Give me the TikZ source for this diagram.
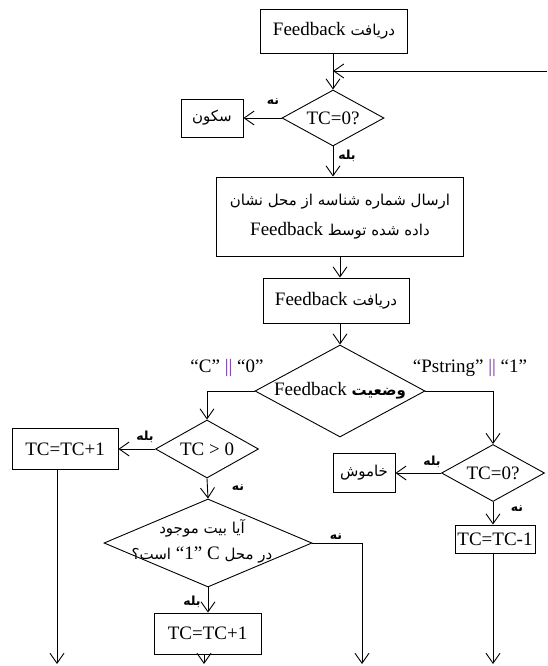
\documentclass[tikz,border=0pt]{standalone}
\usepackage{fontspec}
\setmainfont{Liberation Serif}
\newfontfamily\arabicfont[Script=Arabic]{DejaVu Sans}
\TeXXeTstate=1
\usetikzlibrary{shapes.geometric,arrows.meta}
\definecolor{barcol}{RGB}{112,48,160}
\newcommand\persfont{\arabicfont\fontsize{15}{18}\selectfont}
\newcommand\fatxt[1]{{\persfont\beginR #1\endR}}
\newcommand\fasmall[1]{{\arabicfont\bfseries\fontsize{12.5}{15}\selectfont\beginR #1\endR}}
\newcommand\lt[1]{{\rmfamily\mdseries\fontsize{19}{22}\selectfont #1}}
\newcommand\barsep{{\color{barcol}||}}
\begin{document}
\begin{tikzpicture}[x=1pt,y=-1pt,
  box/.style={draw, line width=0.9pt, rectangle, inner sep=0pt},
  dia/.style={draw, line width=0.9pt, diamond, inner sep=0pt},
  arr/.style={line width=0.9pt, -{Straight Barb[length=10pt,width=14pt,line width=0.9pt]}},
  lbl/.style={inner sep=0pt},
  latin/.style={font=\fontsize{19}{22}\selectfont}]
\fill[white] (0,0) rectangle (547,666);
\useasboundingbox (0,0) rectangle (547,666);

% top part
\node[box, minimum width=147pt, minimum height=44pt] (fb1) at (334,31) {\fatxt{دریافت \lt{Feedback}}};
\node[dia, minimum width=102pt, minimum height=56pt, label={[latin]center:TC=0?}] (d1) at (333,118) {};
\node[box, minimum width=62pt, minimum height=38pt] (sak) at (212,118) {\fatxt{سکون}};
\node[lbl] (n1) at (273,101) {\fasmall{نه}};
\node[lbl] (y1) at (347,156) {\fasmall{بله}};
\node[box, minimum width=247pt, minimum height=79pt, align=center, font=\fontsize{19}{30}\selectfont] (big) at (340,216.5)
  {\fatxt{ارسال شماره شناسه از محل نشان}\\ \fatxt{داده شده توسط \lt{Feedback}}};
\node[box, minimum width=146pt, minimum height=45pt] (fb2) at (336,300.5) {\fatxt{دریافت \lt{Feedback}}};
\node[dia, minimum width=170pt, minimum height=92pt, label={center:\fatxt{{\bfseries وضعیت} \lt{Feedback}}}] (d2) at (340,391) {};

\coordinate (loopR) at (547,71);
\coordinate (loopJ) at (333,71);
\draw[arr] (loopR) -- (loopJ);
\draw[arr] (fb1.south -| d1.north) -- (d1.north);
\draw[arr] (d1.west) -- (sak.east);
\draw[arr] (d1.south) -- (d1.south |- big.north);
\draw[arr] (big.south -| d2.north) -- (fb2.north -| d2.north);
\draw[arr] (fb2.south -| d2.north) -- (d2.north);

% branch labels
\node[lbl, latin] (cl) at (227,368) {“C” \barsep{} “0”};
\node[lbl, latin] (pl) at (470,368) {“Pstring” \barsep{} “1”};

% left branch
\node[dia, minimum width=103pt, minimum height=58pt, label={[latin]center:TC > 0}] (d3) at (207,449) {};
\node[box, minimum width=106pt, minimum height=41pt, latin] (tcA) at (65,449) {TC=TC+1};
\node[lbl] (y3) at (145,437) {\fasmall{بله}};
\node[lbl] (n3) at (238,487) {\fasmall{نه}};
\node[dia, minimum width=208pt, minimum height=88pt] (d4) at (208,543) {};
\node[lbl, align=center, font=\fontsize{19}{26}\selectfont] (d4t) at (202,541)
  {\fatxt{آیا بیت موجود}\\ \fatxt{در محل \lt{C} \lt{“1”} است؟}};
\node[lbl] (n4) at (336,536) {\fasmall{نه}};
\node[lbl] (y4) at (192,602) {\fasmall{بله}};
\node[box, minimum width=107pt, minimum height=41pt, latin] (tcB) at (207.5,633.5) {TC=TC+1};

\coordinate (endA) at (57,664);
\coordinate (endB) at (204,664);
\coordinate (endC) at (362,664);
\draw[arr] (d2.west) -| (d3.north);
\draw[arr] (d3.west) -- (d3.west -| tcA.east);
\draw[arr] (tcA.south -| endA) -- (endA);
\draw[arr] (d3.south) -- (d4.north);
\draw[arr] (d4.east) -| (endC);
\draw[arr] (d4.south) -- (d4.south |- tcB.north);
\draw[arr] (tcB.south -| endB) -- (endB);

% right branch
\node[dia, minimum width=103pt, minimum height=57pt, label={[latin]center:TC=0?}] (d5) at (493,473) {};
\node[box, minimum width=62pt, minimum height=39pt] (kh) at (364,473) {\fatxt{خاموش}};
\node[lbl] (y5) at (432,462) {\fasmall{بله}};
\node[lbl] (n5) at (517,508) {\fasmall{نه}};
\node[box, minimum width=80pt, minimum height=28pt, latin] (tcC) at (495,539) {TC=TC-1};
\coordinate (endD) at (493,664);
\draw[arr] (d2.east) -| (d5.north);
\draw[arr] (d5.west) -- (d5.west -| kh.east);
\draw[arr] (d5.south) -- (d5.south |- tcC.north);
\draw[arr] (tcC.south -| endD) -- (endD);
\end{tikzpicture}
\end{document}
